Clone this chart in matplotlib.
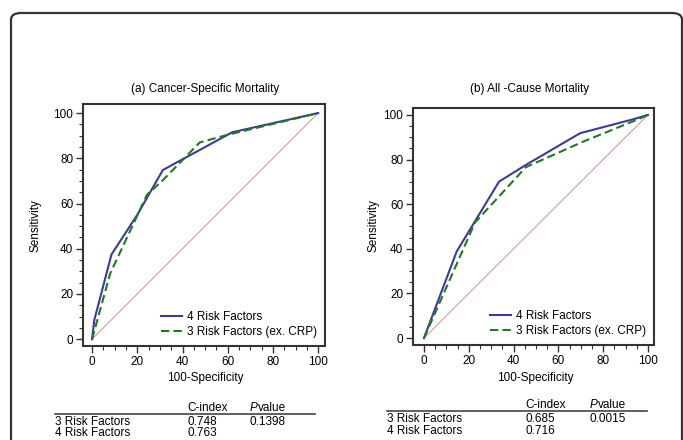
import matplotlib.pyplot as plt
from matplotlib.patches import FancyBboxPatch
from matplotlib.lines import Line2D
from matplotlib.ticker import MultipleLocator

plt.rcParams['font.family'] = ['Liberation Sans Narrow', 'Liberation Sans', 'DejaVu Sans']

# ROC points (100-Specificity, Sensitivity)
a_x4 = [0, 1, 8.6, 20, 31.3, 39, 62, 100]
a_y4 = [0, 8.5, 37.5, 55, 74.8, 79, 91.5, 100]
a_x3 = [0, 8, 24.3, 31, 47.6, 60, 100]
a_y3 = [0, 29, 63.9, 70, 87, 90.4, 100]

b_x4 = [0, 14.6, 33.5, 45.5, 69.7, 93.6, 100]
b_y4 = [0, 38.8, 70.1, 77.6, 91.8, 98.1, 100]
b_x3 = [0, 22.8, 45.5, 71, 95, 100]
b_y3 = [0, 51.8, 76.6, 88, 97.8, 100]

titles = ["(a) Cancer-Specific Mortality", "(b) All -Cause Mortality"]
legend_labels = ["4 Risk Factors", "3 Risk Factors (ex. CRP)"]
row_labels = ["3 Risk Factors", "4 Risk Factors"]
a_cindex = ["0.748", "0.763"]
a_pvalue = ["0.1398", ""]
b_cindex = ["0.685", "0.716"]
b_pvalue = ["0.0015", ""]

W, H = 683, 440
fig = plt.figure(figsize=(6.83, 4.40), dpi=100)


def fx(px):
    return px / W


def fy(py):
    return 1 - py / H


# outer rounded frame
frame = FancyBboxPatch((fx(11), fy(460)), fx(671), (460 - 13) / H,
                       boxstyle="round,pad=0,rounding_size=0.015",
                       transform=fig.transFigure, fill=False,
                       edgecolor='#333333', linewidth=1.6)
fig.add_artist(frame)

blue = '#3b3b9c'
green = '#1f7a1f'
diag = '#c9968a'
fs = 8.5

panels = [
    dict(rect=[fx(83), fy(346), fx(242), 242 / H], xlim=(-4, 103), ylim=(-3, 104),
         x4=a_x4, y4=a_y4, x3=a_x3, y3=a_y3, title=titles[0], tx=205, ylx=36, xc=205,
         tab=dict(x0=55, x1=315, cx=187, px=250, hy=408, ly=414, r1=422, r2=433),
         ci=a_cindex, pv=a_pvalue),
    dict(rect=[fx(413), fy(345), fx(241), 237 / H], xlim=(-4.9, 102.7), ylim=(-3.1, 103.1),
         x4=b_x4, y4=b_y4, x3=b_x3, y3=b_y3, title=titles[1], tx=530, ylx=373, xc=535,
         tab=dict(x0=387, x1=647, cx=525, px=590, hy=405, ly=411, r1=419, r2=431),
         ci=b_cindex, pv=b_pvalue),
]

for p in panels:
    ax = fig.add_axes(p['rect'])
    ax.plot([0, 100], [0, 100], color=diag, lw=0.7)
    ax.plot(p['x4'], p['y4'], color=blue, lw=1.5, label=legend_labels[0])
    ax.plot(p['x3'], p['y3'], color=green, lw=1.5, ls=(0, (4, 2)), label=legend_labels[1])
    ax.set_xlim(*p['xlim'])
    ax.set_ylim(*p['ylim'])
    ax.xaxis.set_major_locator(MultipleLocator(20))
    ax.yaxis.set_major_locator(MultipleLocator(20))
    ax.xaxis.set_minor_locator(MultipleLocator(5))
    ax.yaxis.set_minor_locator(MultipleLocator(5))
    ax.tick_params(which='major', direction='out', length=5, width=1, color='#333333',
                   labelsize=fs, pad=2)
    ax.tick_params(which='minor', direction='out', length=3, width=0.8, color='#333333')
    for s in ax.spines.values():
        s.set_color('#333333')
        s.set_linewidth(1.5)
    ax.legend(loc='lower right', frameon=False, fontsize=fs, handlelength=1.8,
              borderaxespad=0.3, labelspacing=0.2, handletextpad=0.4)

    fig.text(fx(p['tx']), fy(89), p['title'], ha='center', va='center', fontsize=fs)
    fig.text(fx(p['ylx']), fy(226), "Sensitivity", ha='center', va='center',
             rotation=90, fontsize=fs)
    fig.text(fx(p['xc']), fy(378), "100-Specificity", ha='center', va='center', fontsize=fs)

    t = p['tab']
    fig.text(fx(t['cx']), fy(t['hy']), "C-index", va='center', fontsize=fs)
    fig.text(fx(t['px']), fy(t['hy']), "P", va='center', fontsize=fs, style='italic')
    fig.text(fx(t['px'] + 8), fy(t['hy']), "value", va='center', fontsize=fs)
    fig.add_artist(Line2D([fx(t['x0']), fx(t['x1'])], [fy(t['ly']), fy(t['ly'])],
                          transform=fig.transFigure, color='#444444', lw=1.2))
    for lab, ci, pv, ry in zip(row_labels, p['ci'], p['pv'], [t['r1'], t['r2']]):
        fig.text(fx(t['x0']), fy(ry), lab, va='center', fontsize=fs)
        fig.text(fx(t['cx']), fy(ry), ci, va='center', fontsize=fs)
        if pv:
            fig.text(fx(t['px']), fy(ry), pv, va='center', fontsize=fs)

fig.savefig('out.png', dpi=100)
